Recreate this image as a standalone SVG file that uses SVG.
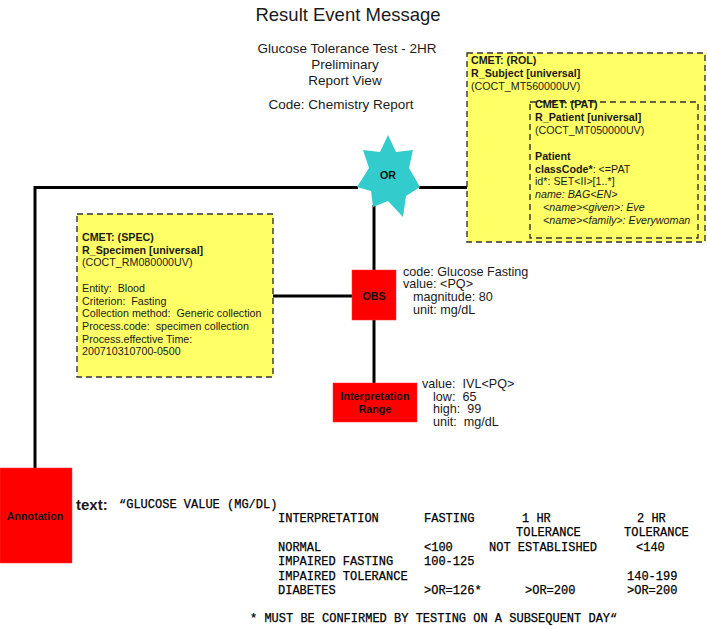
<svg xmlns="http://www.w3.org/2000/svg" width="707" height="629" viewBox="0 0 707 629">
<style>
text{font-family:"Liberation Sans",Arial,sans-serif;fill:#1a1a1a}
.t{font-size:10.7px}
.b{font-weight:bold}
.i{font-style:italic}
.v{font-size:12.6px}
.lbl{font-size:10.7px;font-weight:bold;text-anchor:middle;fill:#111}
.m{font-family:"Liberation Mono","Courier New",monospace;font-size:12px;fill:#000;stroke:#000;stroke-width:0.25}
.cmet{fill:#ffff66;stroke:#333;stroke-width:1.4;stroke-dasharray:6 4}
.red{fill:#ff0000;stroke:#ff3333;stroke-width:0.5}
.conn{stroke:#000;stroke-width:3;fill:none}
</style>
<rect width="707" height="629" fill="#fff"/>
<g id="title">
<text x="348" y="21" style="font-size:18.5px" text-anchor="middle">Result Event Message</text>
<text x="347" y="53" style="font-size:13.5px" text-anchor="middle">Glucose Tolerance Test - 2HR</text>
<text x="345" y="69" style="font-size:13.5px" text-anchor="middle">Preliminary</text>
<text x="345" y="85" style="font-size:13.5px" text-anchor="middle">Report View</text>
<text x="341" y="109" style="font-size:13.5px" text-anchor="middle">Code: Chemistry Report</text>
</g>
<g id="connectors">
<polyline class="conn" points="35,468 35,187.5 358,187.5"/>
<line class="conn" x1="419" y1="187.5" x2="467" y2="187.5"/>
<line class="conn" x1="374" y1="205" x2="374" y2="270"/>
<line class="conn" x1="273" y1="296" x2="352" y2="296"/>
<line class="conn" x1="374" y1="320" x2="374" y2="383"/>
</g>
<g id="rol">
<rect class="cmet" x="467" y="53" width="238" height="189"/>
<text class="t b" x="471" y="64">CMET: (ROL)</text>
<text class="t b" x="471" y="76.8">R_Subject [universal]</text>
<text class="t" x="471" y="89.6">(COCT_MT560000UV)</text>
</g>
<g id="pat">
<rect class="cmet" x="530" y="102" width="168" height="136"/>
<text class="t b" x="535" y="108">CMET: (PAT)</text>
<text class="t b" x="535" y="120.9">R_Patient [universal]</text>
<text class="t" x="535" y="133.8">(COCT_MT050000UV)</text>
<text class="t b" x="535" y="159.6">Patient</text>
<text class="t" x="535" y="172.5"><tspan class="b">classCode*</tspan>: &lt;=PAT</text>
<text class="t" x="535" y="185.4">id*: SET&lt;II&gt;[1..*]</text>
<text class="t i" x="535" y="198.3">name: BAG&lt;EN&gt;</text>
<text class="t i" x="543" y="211.2">&lt;name&gt;&lt;given&gt;: Eve</text>
<text class="t i" x="543" y="224.1">&lt;name&gt;&lt;family&gt;: Everywoman</text>
</g>
<g id="or">
<polygon fill="#33cccc" points="388,135 396,152 413,150 409,168 420,187 406,196 403,217 388,201 373,207 371,191 357,187 369,168 363,150 380,152"/>
<text class="lbl" x="388" y="179">OR</text>
</g>
<g id="spec">
<rect class="cmet" x="77" y="214" width="196" height="163"/>
<text class="t b" x="82" y="241">CMET: (SPEC)</text>
<text class="t b" x="82" y="253.7">R_Specimen [universal]</text>
<text class="t" x="82" y="266.4">(COCT_RM080000UV)</text>
<text class="t" x="82" y="291.8" xml:space="preserve">Entity:  Blood</text>
<text class="t" x="82" y="304.5" xml:space="preserve">Criterion:  Fasting</text>
<text class="t" x="82" y="317.2" xml:space="preserve">Collection method:  Generic collection</text>
<text class="t" x="82" y="329.9" xml:space="preserve">Process.code:  specimen collection</text>
<text class="t" x="82" y="342.6">Process.effective Time:</text>
<text class="t" x="82" y="355.3">200710310700-0500</text>
</g>
<g id="obs">
<rect class="red" x="352" y="270" width="44" height="50"/>
<text class="lbl" x="374" y="299.5">OBS</text>
<text class="v" x="403" y="275.5">code: Glucose Fasting</text>
<text class="v" x="403" y="288.2">value: &lt;PQ&gt;</text>
<text class="v" x="413" y="300.9">magnitude: 80</text>
<text class="v" x="413" y="313.6">unit: mg/dL</text>
</g>
<g id="interp">
<rect class="red" x="333" y="383" width="84" height="39"/>
<text class="lbl" x="375" y="400">Interpretation</text>
<text class="lbl" x="375" y="412.5">Range</text>
<text class="v" x="422" y="388" xml:space="preserve">value:  IVL&lt;PQ&gt;</text>
<text class="v" x="433" y="400.7" xml:space="preserve">low:  65</text>
<text class="v" x="433" y="413.4" xml:space="preserve">high:  99</text>
<text class="v" x="433" y="426.1" xml:space="preserve">unit:  mg/dL</text>
</g>
<g id="annotation">
<rect class="red" x="0" y="468" width="72" height="95"/>
<text class="lbl" x="35" y="520">Annotation</text>
<text x="76" y="510" style="font-size:15px;font-weight:bold">text:</text>
<text class="m" x="119" y="508">“GLUCOSE VALUE (MG/DL)</text>
<text class="m" x="278" y="522">INTERPRETATION</text>
<text class="m" x="424" y="522">FASTING</text>
<text class="m" x="522" y="522">1 HR</text>
<text class="m" x="637" y="522">2 HR</text>
<text class="m" x="516" y="536">TOLERANCE</text>
<text class="m" x="624" y="536">TOLERANCE</text>
<text class="m" x="278" y="551">NORMAL</text>
<text class="m" x="424" y="551">&lt;100</text>
<text class="m" x="489" y="551">NOT ESTABLISHED</text>
<text class="m" x="636" y="551">&lt;140</text>
<text class="m" x="278" y="565">IMPAIRED FASTING</text>
<text class="m" x="424" y="565">100-125</text>
<text class="m" x="278" y="580">IMPAIRED TOLERANCE</text>
<text class="m" x="627" y="580">140-199</text>
<text class="m" x="278" y="594">DIABETES</text>
<text class="m" x="424" y="594">&gt;OR=126*</text>
<text class="m" x="525" y="594">&gt;OR=200</text>
<text class="m" x="627" y="594">&gt;OR=200</text>
<text class="m" x="250" y="622">* MUST BE CONFIRMED BY TESTING ON A SUBSEQUENT DAY“</text>
</g>
</svg>
